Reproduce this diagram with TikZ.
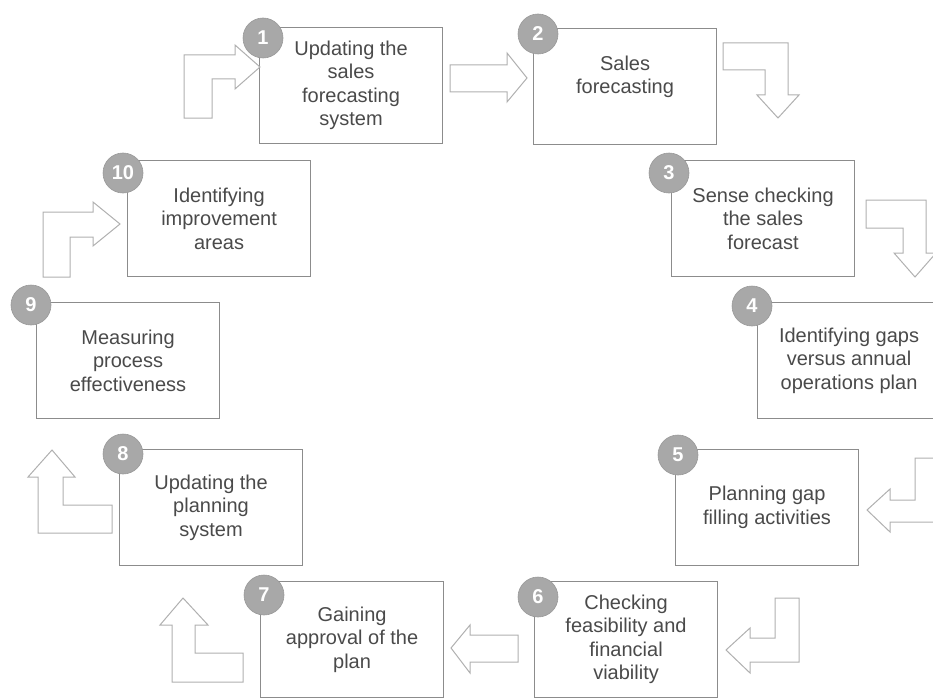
\documentclass[tikz,border=0pt]{standalone}
\usepackage{fontspec}
\setmainfont{Liberation Sans}
\definecolor{boxline}{HTML}{8C8C8C}
\definecolor{txt}{HTML}{4A4A4A}
\definecolor{badgefill}{HTML}{A8A8A8}
\definecolor{badgeline}{HTML}{999999}
\definecolor{arrowline}{HTML}{B0B0B0}
\begin{document}
\begin{tikzpicture}[x=1pt,y=-1pt,
  stepbox/.style={draw=boxline, line width=1.1pt, fill=white,
    minimum width=183pt, minimum height=116pt, anchor=north west,
    align=center, text=txt, inner sep=0pt,
    font=\fontsize{20}{23.5}\selectfont},
  badge/.style={circle, fill=badgefill, draw=badgeline, line width=0.6pt,
    minimum size=40pt, inner sep=0pt, text=white,
    font=\fontsize{20}{20}\selectfont\bfseries},
  blockarrow/.style={draw=arrowline, line width=1pt, fill=white, line join=miter}]
\useasboundingbox (0,0) rectangle (933,698);
\clip (0,0) rectangle (933,698);

% process steps
\node[stepbox] (b1)  at (259,27)  {Updating the\\sales\\forecasting\\system};
\node[stepbox] (b2)  at (533,28)  {Sales\\forecasting\\\mbox{}};
\node[stepbox] (b3)  at (671,160) {Sense checking\\the sales\\forecast};
\node[stepbox] (b4)  at (757,302) {Identifying gaps\\versus annual\\operations plan};
\node[stepbox] (b5)  at (675,449) {Planning gap\\filling activities};
\node[stepbox] (b6)  at (534,581) {Checking\\feasibility and\\financial\\viability};
\node[stepbox] (b7)  at (260,581) {Gaining\\approval of the\\plan};
\node[stepbox] (b8)  at (119,449) {Updating the\\planning\\system};
\node[stepbox] (b9)  at (36,302)  {Measuring\\process\\effectiveness};
\node[stepbox] (b10) at (127,160) {Identifying\\improvement\\areas};

% numbered badges on the box corners
\node[badge] (n1)  at (263,38)  {1};
\node[badge] (n2)  at (538,34)  {2};
\node[badge] (n3)  at (669,173) {3};
\node[badge] (n4)  at (752,306) {4};
\node[badge] (n5)  at (678,455) {5};
\node[badge] (n6)  at (538,597) {6};
\node[badge] (n7)  at (264,595) {7};
\node[badge] (n8)  at (123,454) {8};
\node[badge] (n9)  at (31,305)  {9};
\node[badge] (n10) at (123,173) {10};

% outlined block arrows between the steps
% into step 1
\draw[blockarrow] (184,118) -- (184,55) -- (235,55) -- (235,45) -- (260,67)
  -- (235,89) -- (235,79) -- (212,79) -- (212,118) -- cycle;
% 1 -> 2
\draw[blockarrow] (450,65) -- (507,65) -- (507,53) -- (527,78) -- (507,102)
  -- (507,92) -- (450,92) -- cycle;
% 2 -> 3
\draw[blockarrow] (723,43) -- (788,43) -- (788,95) -- (799,95) -- (778,118)
  -- (757,95) -- (765,95) -- (765,70) -- (723,70) -- cycle;
% 3 -> 4
\draw[blockarrow] (866,200) -- (926,200) -- (926,253) -- (936,253) -- (915,277)
  -- (894,253) -- (903,253) -- (903,228) -- (866,228) -- cycle;
% 4 -> 5
\draw[blockarrow] (915,458) -- (940,458) -- (940,522) -- (890,522) -- (890,532)
  -- (867,510) -- (890,489) -- (890,500) -- (915,500) -- cycle;
% 5 -> 6
\draw[blockarrow] (775,598) -- (799,598) -- (799,662) -- (750,662) -- (750,673)
  -- (726,650) -- (750,628) -- (750,638) -- (775,638) -- cycle;
% 6 -> 7
\draw[blockarrow] (518,635) -- (470,635) -- (470,625) -- (451,648) -- (470,673)
  -- (470,662) -- (518,662) -- cycle;
% 7 -> 8
\draw[blockarrow] (172,682) -- (243,682) -- (243,653) -- (195,653) -- (195,625)
  -- (208,625) -- (183,598) -- (160,625) -- (172,625) -- cycle;
% 8 -> 9
\draw[blockarrow] (38,533) -- (112,533) -- (112,505) -- (63,505) -- (63,477)
  -- (75,477) -- (52,450) -- (28,477) -- (38,477) -- cycle;
% 9 -> 10
\draw[blockarrow] (43,277) -- (43,212) -- (93,212) -- (93,202) -- (120,224)
  -- (93,246) -- (93,237) -- (70,237) -- (70,277) -- cycle;
\end{tikzpicture}
\end{document}
